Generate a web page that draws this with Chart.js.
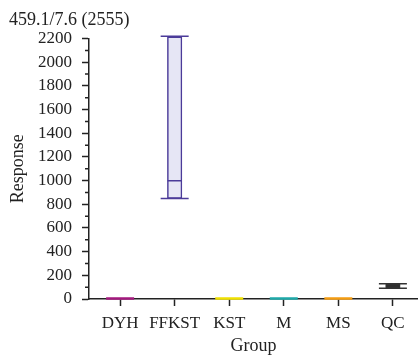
<!DOCTYPE html>
<html>
<head>
<meta charset="utf-8">
<script src="https://cdn.jsdelivr.net/npm/chart.js@4"></script>
<style>
  html, body { margin: 0; padding: 0; background: #fff; }
  #wrap { width: 418px; height: 358px; }
</style>
</head>
<body>
<div id="wrap"><canvas id="boxChart"></canvas></div>
<script>
// five-number summaries per group
const groups = ['DYH', 'FFKST', 'KST', 'M', 'MS', 'QC'];
const whiskerLow = [0, 850, 0, 0, 0, 90];
const boxLow = [1, 850, 1, 1, 1, 94];
const medians = [3, 1000, 3, 3, 3, 110];
const boxHigh = [6, 2215, 6, 6, 6, 124];
const whiskerHigh = [8, 2220, 8, 8, 8, 128];
const yTicks = [0, 200, 400, 600, 800, 1000, 1200, 1400, 1600, 1800, 2000, 2200];

const fillColors = ['#a3197d', '#e6e6f5', '#efe000', '#1ea8a8', '#f39c12', '#111111'];
const lineColors = ['#a3197d', '#4b3b99', '#efe000', '#1ea8a8', '#f39c12', '#333333'];

const serif = '"Liberation Serif", "Times New Roman", serif';
const ink = '#222';

// whiskers, caps, medians and the minor y ticks
const boxExtras = {
    id: 'boxExtras',
    afterDatasetsDraw(chart) {
        const ctx = chart.ctx;
        const x = chart.scales.x;
        const y = chart.scales.y;
        ctx.save();
        groups.forEach((g, i) => {
            const cx = x.getPixelForValue(i);
            ctx.strokeStyle = lineColors[i];
            ctx.lineWidth = 1.5;
            ctx.beginPath();
            ctx.moveTo(cx, y.getPixelForValue(whiskerLow[i]));
            ctx.lineTo(cx, y.getPixelForValue(boxLow[i]));
            ctx.moveTo(cx, y.getPixelForValue(boxHigh[i]));
            ctx.lineTo(cx, y.getPixelForValue(whiskerHigh[i]));
            // caps
            [whiskerLow[i], whiskerHigh[i]].forEach(v => {
                const py = y.getPixelForValue(v);
                ctx.moveTo(cx - 14, py);
                ctx.lineTo(cx + 14, py);
            });
            // median
            const my = y.getPixelForValue(medians[i]);
            ctx.moveTo(cx - 7, my);
            ctx.lineTo(cx + 7, my);
            ctx.stroke();
        });
        ctx.restore();
    },
    afterDraw(chart) {
        const ctx = chart.ctx;
        const y = chart.scales.y;
        const ax = chart.chartArea.left;
        ctx.save();
        ctx.strokeStyle = ink;
        ctx.lineWidth = 1.5;
        ctx.beginPath();
        for (let v = 100; v < 2200; v += 200) {
            const py = y.getPixelForValue(v);
            ctx.moveTo(ax - 4, py);
            ctx.lineTo(ax, py);
        }
        ctx.stroke();
        ctx.restore();
    }
};

new Chart(document.getElementById('boxChart'), {
    type: 'bar',
    data: {
        datasets: [{
            data: groups.map((g, i) => ({ x: i, y: [boxLow[i], boxHigh[i]] })),
            backgroundColor: fillColors,
            borderColor: lineColors,
            borderWidth: 1.5,
            borderSkipped: false,
            barThickness: 14.5,
            clip: false
        }]
    },
    options: {
        responsive: true,
        maintainAspectRatio: false,
        animation: false,
        layout: { padding: { left: 9, right: 0, top: 0, bottom: 0 } },
        plugins: {
            legend: { display: false },
            tooltip: { enabled: false },
            title: {
                display: true,
                text: '459.1/7.6 (2555)',
                align: 'start',
                color: ink,
                font: { family: serif, size: 18, weight: 'normal' },
                padding: { top: 9, bottom: 8 }
            }
        },
        scales: {
            x: {
                type: 'linear',
                min: -0.57,
                max: 5.46,
                offset: false,
                grid: { drawOnChartArea: false, offset: false, tickLength: 7, color: ink, tickWidth: 1.5 },
                border: { color: ink, width: 1.5 },
                afterFit(scale) { scale.height = 59; },
                ticks: {
                    stepSize: 1,
                    includeBounds: false,
                    autoSkip: false,
                    maxRotation: 0,
                    padding: 7,
                    color: ink,
                    font: { family: serif, size: 17 },
                    callback: (v) => groups[v] ?? ''
                },
                title: {
                    display: true,
                    text: 'Group',
                    color: ink,
                    font: { family: serif, size: 18 },
                    padding: { top: 0, bottom: 1 }
                }
            },
            y: {
                min: 0,
                max: 2200,
                grid: { drawOnChartArea: false, tickLength: 7, color: ink, tickWidth: 1.5 },
                border: { color: ink, width: 1.5 },
                afterFit(scale) { scale.width = 80; },
                afterBuildTicks(scale) { scale.ticks = yTicks.map(v => ({ value: v })); },
                ticks: {
                    padding: 10,
                    color: ink,
                    font: { family: serif, size: 17 },
                    callback: (v) => String(v)
                },
                title: {
                    display: true,
                    text: 'Response',
                    color: ink,
                    font: { family: serif, size: 18, lineHeight: 1 },
                    padding: 0
                }
            }
        }
    },
    plugins: [boxExtras]
});
</script>
</body>
</html>
